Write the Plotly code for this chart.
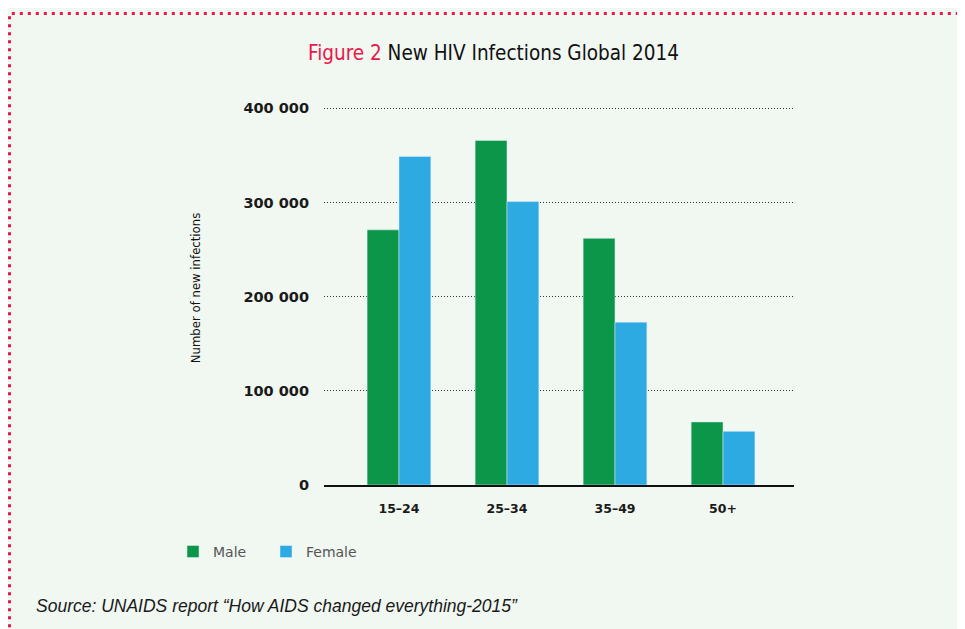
import plotly.graph_objects as go

# Dados (estimados a partir da figura)
grupos = ["15–24", "25–34", "35–49", "50+"]
homens = [271000, 366000, 262000, 67000]
mulheres = [349000, 301000, 173000, 57000]
y_ticks = [0, 100000, 200000, 300000, 400000]
y_labels = ["0", "100 000", "200 000", "300 000", "400 000"]

VERDE = "#0C9649"
AZUL = "#2EAAE3"
FUNDO = "#F1F7F1"
VERMELHO = "#E8194A"

# a página desloca a figura 8 px (margem do body)
OFF = 8
Y_MAX = 410000
W, H = 965, 629
plot_bottom = 485 - OFF
plot_h = 377 * Y_MAX / 400000
L = 324 - OFF
T = plot_bottom - plot_h
R = W - (794 - OFF)
B = H - plot_bottom
pw, ph = W - L - R, plot_h


def px_x(x):
    return (x - OFF - L) / pw


def px_y(y):
    return (plot_bottom - (y - OFF)) / ph


fig = go.Figure()

fig.add_trace(go.Bar(x=grupos, y=homens, name="Male", marker_color=VERDE))
fig.add_trace(go.Bar(x=grupos, y=mulheres, name="Female", marker_color=AZUL))

fig.update_layout(
    width=W,
    height=H,
    margin=dict(l=L, r=R, t=T, b=B),
    paper_bgcolor=FUNDO,
    plot_bgcolor="rgba(0,0,0,0)",
    barmode="group",
    bargap=0.41,
    bargroupgap=0,
    font=dict(family="DejaVu Sans, sans-serif", color="#1a1a1a"),
    title=dict(
        text=f"<span style='color:{VERMELHO}'>Figure 2</span> New HIV Infections Global 2014",
        x=(493.5 - OFF) / W, xanchor="center", y=1 - (53 - OFF) / H, yanchor="middle",
        font=dict(family="DejaVu Sans Condensed, Liberation Sans Narrow, sans-serif",
                  size=20.5, color="#111"),
    ),
    legend=dict(
        orientation="h", x=px_x(173), y=px_y(552), xanchor="left", yanchor="middle",
        font=dict(size=14, color="#555"), bgcolor="rgba(0,0,0,0)",
        itemwidth=30, entrywidth=48, entrywidthmode="pixels", traceorder="normal",
    ),
    showlegend=True,
)

fig.update_xaxes(
    range=[-0.694, 3.657],
    showgrid=False,
    showline=True, linecolor="#111", linewidth=1.5,
    ticks="", ticklabelstandoff=11,
    tickfont=dict(size=12.5, color="#1a1a1a", weight="bold"),
)
fig.update_yaxes(
    range=[0, Y_MAX],
    tickvals=y_ticks, ticktext=y_labels,
    showgrid=True, gridcolor="#333", gridwidth=1, griddash="1px,2px",
    zeroline=False, showline=False,
    ticks="", ticklabelstandoff=14,
    tickfont=dict(size=14.5, color="#1a1a1a", weight="bold"),
)

# Moldura pontilhada (borda vermelha)
fig.add_shape(
    type="rect", xref="paper", yref="paper", layer="below",
    x0=px_x(OFF + 1.5), x1=px_x(985), y0=px_y(660), y1=px_y(13),
    line=dict(color=VERMELHO, width=3, dash="3px,5px"),
)

fig.add_annotation(
    text="Number of new infections", textangle=-90,
    xref="paper", yref="paper", x=px_x(195), y=px_y(288),
    xanchor="center", yanchor="middle", showarrow=False,
    font=dict(family="DejaVu Sans Condensed, Liberation Sans Narrow, sans-serif",
              size=13, color="#111"),
)

fig.add_annotation(
    text="Source: UNAIDS report “How AIDS changed everything-2015”",
    xref="paper", yref="paper", x=px_x(34), y=px_y(606),
    xanchor="left", yanchor="middle", showarrow=False,
    font=dict(family="Liberation Sans, Arial, sans-serif", size=17.5, color="#1a1a1a", style="italic"),
)

fig.write_html("out.html")
